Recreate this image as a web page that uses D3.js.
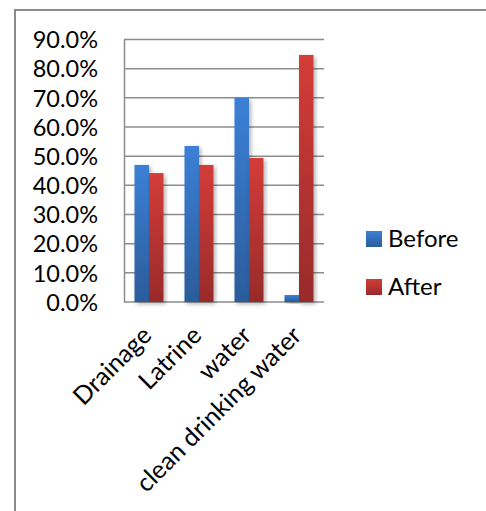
<!DOCTYPE html>
<html>
<head>
<meta charset="utf-8">
<script src="https://cdn.jsdelivr.net/npm/d3@7"></script>
<style>
  html, body { margin: 0; padding: 0; background: #fff; }
  svg { display: block; }
  text { font-family: Lato, "Open Sans", sans-serif; fill: #000; }
</style>
</head>
<body>
<svg id="chart" width="486" height="511"></svg>
<script>
// Sanitation indicators, share of households before and after the programme
const categories = ["Drainage", "Latrine", "water", "clean drinking water"];
const seriesNames = ["Before", "After"];
const beforeValues = [0.470, 0.535, 0.700, 0.024];
const afterValues = [0.442, 0.470, 0.494, 0.847];
const yTicks = [0, 0.1, 0.2, 0.3, 0.4, 0.5, 0.6, 0.7, 0.8, 0.9];

const svg = d3.select("#chart");
const W = 486, H = 511;

const plot = { left: 124, right: 324, top: 39.5, bottom: 302 };

// Gradients and shadow for the bars
const defs = svg.append("defs");
const gradStops = {
  Before: ["#3b80d6", "#2b5c9b"],
  After: ["#d43c38", "#982b2a"]
};
seriesNames.forEach(name => {
  const g = defs.append("linearGradient")
    .attr("id", "grad-" + name)
    .attr("x1", 0).attr("y1", 0).attr("x2", 0).attr("y2", 1);
  g.append("stop").attr("offset", "0%").attr("stop-color", gradStops[name][0]);
  g.append("stop").attr("offset", "100%").attr("stop-color", gradStops[name][1]);
});
const shadow = defs.append("filter").attr("id", "barShadow")
  .attr("x", "-30%").attr("y", "-10%").attr("width", "160%").attr("height", "130%");
shadow.append("feDropShadow")
  .attr("dx", 2).attr("dy", 2).attr("stdDeviation", 2)
  .attr("flood-color", "#000").attr("flood-opacity", 0.3);

// Outer frame (top and left edges visible)
svg.append("path")
  .attr("d", `M15,${H} L15,10 L${W},10`)
  .attr("fill", "none")
  .attr("stroke", "#8a8a8a")
  .attr("stroke-width", 2);

const x0 = d3.scaleBand()
  .domain(categories)
  .range([plot.left, plot.right])
  .paddingInner(0.42)
  .paddingOuter(0.21);
const x1 = d3.scaleBand()
  .domain(seriesNames)
  .range([0, x0.bandwidth()]);
const y = d3.scaleLinear()
  .domain([0, 0.9])
  .range([plot.bottom, plot.top]);

// Horizontal gridlines
svg.append("g")
  .selectAll("line")
  .data(yTicks)
  .join("line")
  .attr("x1", plot.left).attr("x2", plot.right)
  .attr("y1", d => y(d)).attr("y2", d => y(d))
  .attr("stroke", "#8c8c8c")
  .attr("stroke-width", 1.5);

// Y axis
const yAxis = d3.axisLeft(y)
  .tickValues(yTicks)
  .tickFormat(d3.format(".1%"))
  .tickSize(0)
  .tickPadding(26);
const yg = svg.append("g")
  .attr("transform", `translate(${plot.left},0)`)
  .call(yAxis);
yg.select(".domain").attr("stroke", "#8c8c8c").attr("stroke-width", 1.5);
yg.selectAll("text")
  .style("font-family", "Lato, 'Open Sans', sans-serif")
  .attr("font-size", 23.5)
  .attr("fill", "#000")
  .attr("dy", "0.35em");

// Bars
const rows = categories.map((c, i) => ({
  category: c,
  values: [
    { series: "Before", value: beforeValues[i] },
    { series: "After", value: afterValues[i] }
  ]
}));

svg.append("g")
  .selectAll("g")
  .data(rows)
  .join("g")
  .attr("transform", d => `translate(${x0(d.category)},0)`)
  .selectAll("rect")
  .data(d => d.values)
  .join("rect")
  .attr("x", d => x1(d.series))
  .attr("y", d => y(d.value))
  .attr("width", x1.bandwidth())
  .attr("height", d => y(0) - y(d.value))
  .attr("fill", d => `url(#grad-${d.series})`)
  .attr("filter", "url(#barShadow)");

// Category labels, rotated
const xAxis = d3.axisBottom(x0).tickSize(0).tickPadding(0);
const xg = svg.append("g")
  .attr("transform", `translate(0,${plot.bottom})`)
  .call(xAxis);
xg.select(".domain").remove();
xg.selectAll(".tick text")
  .style("font-family", "Lato, 'Open Sans', sans-serif")
  .attr("font-size", 25)
  .attr("fill", "#000")
  .attr("text-anchor", "end")
  .attr("dy", 0)
  .attr("y", 0)
  .attr("transform", "translate(4,35) rotate(-45)");

// Legend
const legend = svg.append("g")
  .selectAll("g")
  .data(seriesNames)
  .join("g")
  .attr("transform", (d, i) => `translate(366,${231 + i * 48})`);
legend.append("rect")
  .attr("width", 16).attr("height", 16)
  .attr("fill", d => `url(#grad-${d})`);
legend.append("text")
  .attr("x", 22).attr("y", 16)
  .attr("font-size", 24)
  .text(d => d);
</script>
</body>
</html>
